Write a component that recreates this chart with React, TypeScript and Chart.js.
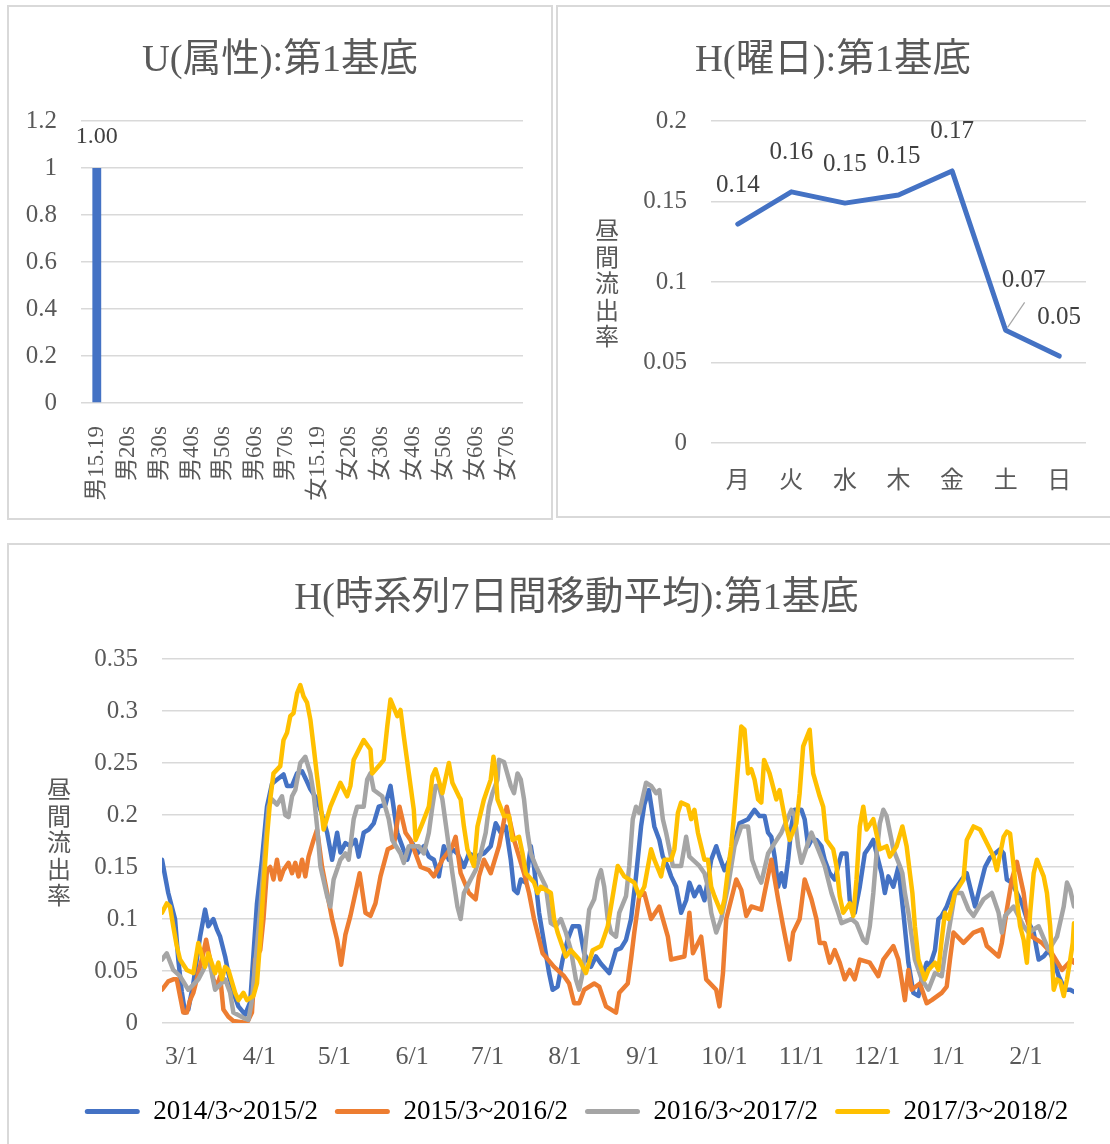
import { useEffect, useRef } from "react";
import { Chart, registerables } from "chart.js";

Chart.register(...registerables);

const FONT = "'Liberation Serif', 'Noto Sans CJK JP', serif";
const TEXT_COLOR = "#595959";
const LABEL_COLOR = "#404040";
const GRID_COLOR = "#d9d9d9";

// ---- Panel 1: U(属性)
const attrLabels = ["男15.19", "男20s", "男30s", "男40s", "男50s", "男60s", "男70s", "女15.19", "女20s", "女30s", "女40s", "女50s", "女60s", "女70s"];
const attrValues = [1.0, 0, 0, 0, 0, 0, 0, 0, 0, 0, 0, 0, 0, 0];

// ---- Panel 2: H(曜日)
const weekdayLabels = ["月", "火", "水", "木", "金", "土", "日"];
const weekdayValues = [0.136, 0.156, 0.149, 0.154, 0.169, 0.070, 0.054];

// ---- Panel 3: H(時系列7日間移動平均)
const monthTickDays = [0, 31, 61, 92, 122, 153, 184, 214, 245, 275, 306, 337];
const monthTickLabels = ["3/1", "4/1", "5/1", "6/1", "7/1", "8/1", "9/1", "10/1", "11/1", "12/1", "1/1", "2/1"];
const seriesLabels = ["2014/3~2015/2", "2015/3~2016/2", "2016/3~2017/2", "2017/3~2018/2"];
const seriesColors = ["#4472C4", "#ED7D31", "#A5A5A5", "#FFC000"];

// [day since 3/1, value]
const series2014: [number, number][] = [[0,0.157],[2.5,0.125],[5.2,0.100],[6.5,0.061],[7.9,0.030],[9.2,0.010],[10.5,0.013],[12.5,0.038],[15.2,0.083],[17.2,0.109],[18.5,0.093],[20.5,0.100],[21.9,0.090],[23.2,0.083],[25.2,0.064],[26.5,0.048],[28.5,0.029],[30.5,0.016],[33.2,0.008],[35.2,0.020],[37.9,0.115],[39.9,0.157],[41.9,0.208],[43.9,0.230],[45.9,0.234],[48.5,0.239],[49.9,0.228],[51.9,0.228],[53.9,0.240],[55.9,0.242],[57.9,0.232],[59.2,0.225],[61.9,0.215],[63.9,0.200],[65.9,0.183],[67.9,0.157],[69.9,0.183],[71.2,0.164],[73.2,0.173],[75.2,0.170],[77.2,0.176],[78.5,0.160],[80.5,0.183],[82.5,0.186],[84.5,0.192],[86.5,0.208],[89.2,0.210],[91.2,0.228],[93.9,0.183],[95.9,0.170],[97.9,0.157],[99.9,0.173],[101.9,0.163],[104.5,0.170],[106.5,0.160],[108.5,0.157],[110.5,0.141],[112.5,0.170],[114.5,0.157],[115.5,0.168],[117.9,0.163],[120.5,0.150],[122.5,0.163],[125.2,0.160],[128.5,0.163],[131.2,0.170],[133.2,0.192],[135.2,0.183],[137.2,0.189],[139.2,0.157],[140.5,0.128],[141.9,0.125],[143.2,0.138],[145.2,0.135],[147.2,0.170],[148.5,0.150],[150.5,0.106],[152.5,0.077],[154.5,0.048],[155.9,0.032],[157.9,0.035],[159.9,0.061],[161.9,0.080],[163.9,0.093],[166.5,0.093],[168.5,0.067],[171.2,0.054],[173.2,0.064],[175.2,0.057],[178.5,0.048],[181.2,0.070],[183.2,0.072],[185.2,0.080],[187.2,0.100],[189.2,0.141],[191.2,0.189],[192.5,0.210],[194.3,0.224],[195.2,0.210],[196.5,0.189],[198.5,0.176],[199.9,0.160],[201.9,0.150],[203.2,0.141],[205.2,0.131],[207.2,0.106],[209.2,0.118],[210.5,0.135],[212.5,0.122],[214.5,0.131],[216.5,0.118],[219.2,0.157],[221.2,0.170],[222.5,0.160],[224.5,0.147],[226.5,0.157],[228.5,0.173],[230.5,0.192],[233.9,0.196],[236.5,0.205],[238.5,0.199],[240.5,0.199],[241.9,0.183],[243.2,0.179],[244.5,0.160],[245.9,0.131],[247.2,0.144],[248.5,0.131],[249.9,0.157],[251.2,0.189],[252.5,0.205],[255.2,0.205],[256.5,0.196],[257.9,0.170],[259.2,0.176],[261.2,0.176],[263.2,0.170],[264.5,0.157],[266.5,0.144],[268.5,0.138],[271.2,0.163],[273.2,0.163],[274.5,0.118],[276.5,0.106],[278.5,0.131],[280.5,0.163],[282.5,0.170],[283.9,0.176],[285.2,0.163],[287.2,0.144],[288.5,0.125],[289.9,0.141],[291.9,0.131],[293.9,0.150],[295.9,0.106],[297.9,0.058],[299.9,0.029],[301.9,0.026],[303.2,0.042],[305.2,0.058],[306.5,0.055],[308.5,0.070],[309.9,0.100],[311.2,0.103],[313.2,0.112],[315.2,0.125],[317.2,0.131],[319.2,0.138],[321.2,0.144],[322.5,0.131],[324.5,0.112],[326.5,0.131],[328.5,0.150],[330.5,0.159],[332.5,0.163],[334.5,0.167],[335.9,0.163],[337.2,0.138],[339.2,0.135],[341.2,0.125],[343.2,0.115],[345.2,0.100],[347.9,0.087],[349.9,0.061],[351.9,0.064],[353.9,0.070],[355.9,0.060],[357.9,0.045],[360.5,0.032],[362.5,0.032],[364,0.030]];

const series2015: [number, number][] = [[0,0.032],[2.5,0.040],[4.5,0.042],[5.9,0.042],[7.2,0.026],[8.5,0.010],[9.9,0.010],[11.2,0.022],[12.5,0.029],[14.5,0.048],[16.5,0.067],[17.6,0.080],[19.2,0.061],[20.5,0.042],[21.9,0.035],[23.2,0.045],[24.5,0.013],[26.5,0.006],[28.5,0.002],[33.9,0.000],[35.9,0.010],[37.2,0.061],[39.2,0.070],[40.5,0.100],[41.9,0.147],[43.2,0.150],[44.5,0.138],[45.9,0.157],[47.2,0.138],[48.5,0.147],[50.5,0.154],[51.9,0.144],[53.2,0.154],[54.5,0.141],[55.9,0.157],[57.2,0.141],[58.5,0.160],[60.5,0.176],[61.9,0.186],[63.9,0.150],[65.9,0.125],[67.9,0.100],[69.9,0.080],[71.5,0.056],[73.2,0.085],[75.2,0.103],[77.2,0.125],[78.9,0.144],[81.2,0.106],[83.2,0.103],[85.2,0.115],[87.2,0.141],[90.1,0.167],[92.5,0.170],[94.8,0.208],[97.2,0.183],[99.2,0.176],[101.2,0.163],[103.2,0.150],[106.5,0.147],[108.5,0.141],[111.9,0.157],[115.9,0.170],[117.2,0.179],[119.2,0.144],[122.5,0.125],[125.2,0.119],[126.5,0.141],[128.5,0.157],[131.2,0.144],[134.5,0.170],[137.6,0.208],[140.5,0.176],[144.5,0.144],[146.5,0.125],[148.5,0.100],[151.9,0.067],[156.5,0.054],[160.5,0.045],[162.5,0.038],[164.5,0.019],[166.5,0.019],[168.5,0.032],[172.5,0.038],[174.5,0.035],[177.2,0.016],[181.2,0.010],[182.5,0.029],[185.9,0.038],[187.2,0.061],[188.5,0.087],[190.5,0.122],[192.5,0.125],[195.2,0.100],[198.5,0.112],[201.9,0.083],[203.2,0.061],[208.5,0.064],[210.5,0.106],[211.9,0.067],[215.2,0.083],[217.2,0.042],[221.2,0.032],[222.5,0.016],[223.9,0.048],[225.2,0.100],[227.2,0.119],[229.2,0.138],[231.2,0.128],[233.2,0.103],[235.2,0.112],[239.2,0.109],[240.5,0.125],[243.2,0.157],[245.9,0.119],[247.9,0.093],[250.5,0.061],[251.9,0.087],[254.5,0.100],[256.5,0.138],[259.2,0.119],[261.2,0.100],[262.5,0.077],[264.5,0.077],[266.5,0.058],[268.5,0.070],[270.5,0.058],[272.5,0.042],[274.5,0.051],[276.5,0.042],[278.5,0.061],[282.5,0.058],[285.9,0.045],[287.9,0.061],[291.9,0.074],[293.9,0.061],[295.2,0.042],[296.5,0.022],[297.9,0.051],[299.2,0.032],[302.5,0.038],[305.2,0.019],[307.2,0.022],[311.2,0.029],[313.2,0.035],[314.5,0.061],[315.9,0.087],[319.9,0.077],[323.9,0.087],[327.2,0.090],[329.2,0.074],[333.9,0.064],[335.2,0.077],[337.2,0.109],[339.2,0.138],[341.2,0.155],[343.9,0.125],[345.2,0.100],[347.2,0.083],[351.2,0.077],[355.2,0.067],[359.2,0.051],[363.2,0.061],[364,0.058]];

const series2016: [number, number][] = [[0,0.061],[1.9,0.067],[4.5,0.051],[7.2,0.045],[10.5,0.032],[14.5,0.042],[16.5,0.051],[18.5,0.064],[21.2,0.032],[25.2,0.042],[27.2,0.029],[28.5,0.010],[32.5,0.005],[34.5,0.003],[35.9,0.022],[39.2,0.109],[41.2,0.170],[42.5,0.208],[43.9,0.215],[45.9,0.210],[47.9,0.218],[49.2,0.200],[50.5,0.198],[51.9,0.218],[53.2,0.224],[55.2,0.250],[57.2,0.256],[59.2,0.240],[60.5,0.221],[61.9,0.189],[63.2,0.151],[65.9,0.122],[67.2,0.112],[68.5,0.138],[71.2,0.157],[73.2,0.163],[74.5,0.157],[75.2,0.170],[76.5,0.196],[77.9,0.208],[80.5,0.208],[81.9,0.234],[83.2,0.240],[84.5,0.224],[87.9,0.218],[90.5,0.196],[91.9,0.176],[95.2,0.163],[96.5,0.154],[98.5,0.170],[102.5,0.170],[104.5,0.163],[106.5,0.183],[107.9,0.208],[109.2,0.228],[110.5,0.228],[111.9,0.215],[113.9,0.180],[115.9,0.144],[117.9,0.112],[119.2,0.100],[120.5,0.125],[123.2,0.138],[125.2,0.147],[127.2,0.163],[129.2,0.183],[130.5,0.208],[131.9,0.221],[133.9,0.234],[134.5,0.253],[136.5,0.251],[139.2,0.228],[140.5,0.221],[141.9,0.240],[143.2,0.234],[144.5,0.215],[145.9,0.183],[147.2,0.163],[149.2,0.151],[151.2,0.141],[153.2,0.131],[155.2,0.096],[157.2,0.093],[159.2,0.100],[161.2,0.087],[163.2,0.070],[165.2,0.042],[166.5,0.032],[167.9,0.048],[169.2,0.080],[170.5,0.109],[172.5,0.119],[173.9,0.138],[175.2,0.147],[176.5,0.131],[177.9,0.100],[179.2,0.087],[181.2,0.083],[182.5,0.106],[185.2,0.122],[186.5,0.151],[187.9,0.196],[189.2,0.208],[190.5,0.202],[193.2,0.231],[195.2,0.228],[197.2,0.221],[198.5,0.224],[199.9,0.196],[201.2,0.183],[203.9,0.151],[207.2,0.151],[209.2,0.179],[210.5,0.160],[214.5,0.151],[216.5,0.144],[217.9,0.131],[219.2,0.106],[221.2,0.087],[223.2,0.100],[225.9,0.131],[228.5,0.170],[231.2,0.189],[233.9,0.189],[235.5,0.157],[237.9,0.141],[239.2,0.135],[241.9,0.163],[244.5,0.173],[247.2,0.183],[251.2,0.205],[252.5,0.199],[253.9,0.170],[255.2,0.154],[259.2,0.183],[261.9,0.167],[264.5,0.151],[267.2,0.125],[269.9,0.106],[271.2,0.096],[275.2,0.100],[277.2,0.096],[279.9,0.080],[281.2,0.077],[282.5,0.093],[283.9,0.125],[285.2,0.163],[286.5,0.192],[287.9,0.205],[289.2,0.199],[291.9,0.167],[294.5,0.151],[295.5,0.144],[296.5,0.125],[297.9,0.106],[300.5,0.061],[303.2,0.042],[305.9,0.032],[308.5,0.048],[311.2,0.045],[312.5,0.067],[315.2,0.106],[316.5,0.125],[319.2,0.125],[321.9,0.109],[323.9,0.103],[327.9,0.119],[331.2,0.125],[333.9,0.106],[335.2,0.087],[336.5,0.103],[339.9,0.112],[343.9,0.093],[345.9,0.087],[349.9,0.093],[353.9,0.070],[357.2,0.083],[359.9,0.112],[361.2,0.135],[362.5,0.128],[364,0.112]];

const series2017: [number, number][] = [[0,0.106],[1.9,0.115],[3.2,0.112],[4.5,0.093],[5.9,0.074],[7.2,0.061],[9.9,0.051],[12.5,0.048],[14.5,0.077],[17.2,0.054],[18.5,0.067],[21.2,0.048],[22.5,0.058],[23.9,0.042],[25.2,0.054],[26.5,0.051],[29.2,0.029],[30.5,0.022],[32.5,0.029],[33.9,0.022],[36.5,0.026],[37.9,0.038],[39.2,0.080],[40.5,0.131],[41.9,0.179],[43.2,0.215],[44.5,0.240],[47.2,0.247],[48.5,0.272],[49.9,0.279],[51.2,0.295],[52.5,0.298],[53.9,0.317],[55.2,0.325],[56.5,0.314],[57.9,0.308],[59.2,0.292],[60.5,0.266],[61.9,0.237],[63.2,0.212],[64.5,0.186],[67.2,0.208],[71.2,0.231],[73.9,0.218],[75.2,0.228],[76.5,0.253],[80.5,0.272],[83.2,0.263],[83.9,0.240],[86.5,0.247],[88.5,0.253],[89.9,0.285],[91.2,0.311],[93.9,0.295],[95.2,0.301],[96.5,0.276],[99.2,0.228],[100.5,0.205],[101.2,0.176],[103.9,0.192],[106.5,0.208],[107.9,0.237],[109.2,0.244],[111.9,0.221],[114.5,0.250],[115.9,0.231],[118.5,0.218],[119.2,0.215],[120.5,0.189],[121.9,0.167],[124.5,0.151],[125.9,0.189],[128.5,0.215],[131.2,0.234],[132.3,0.256],[133.2,0.240],[133.9,0.215],[136.5,0.199],[138.5,0.199],[139.9,0.176],[142.5,0.179],[143.9,0.163],[145.2,0.144],[148.5,0.135],[149.9,0.125],[151.2,0.131],[155.2,0.125],[156.5,0.100],[157.9,0.087],[161.2,0.064],[163.2,0.070],[166.5,0.061],[169.2,0.048],[171.9,0.070],[175.2,0.074],[176.5,0.083],[177.9,0.093],[179.2,0.112],[180.5,0.131],[181.9,0.151],[184.5,0.141],[188.5,0.135],[190.5,0.122],[192.5,0.131],[195.2,0.167],[196.5,0.157],[199.2,0.141],[200.5,0.157],[203.2,0.157],[204.5,0.167],[205.9,0.202],[207.2,0.212],[209.9,0.209],[211.2,0.196],[212.5,0.205],[213.9,0.183],[216.5,0.157],[217.9,0.157],[219.2,0.131],[220.5,0.122],[223.2,0.106],[224.5,0.119],[225.9,0.147],[227.2,0.170],[228.5,0.205],[229.9,0.247],[231.2,0.285],[232.5,0.282],[233.9,0.240],[235.2,0.244],[236.5,0.234],[237.9,0.215],[239.2,0.212],[240.3,0.253],[242.5,0.240],[245.2,0.215],[246.5,0.224],[249.2,0.189],[250.5,0.176],[253.2,0.192],[254.5,0.221],[255.9,0.266],[258.5,0.282],[259.9,0.240],[262.5,0.218],[263.9,0.208],[265.2,0.176],[267.9,0.167],[269.2,0.151],[270.5,0.122],[271.9,0.106],[274.5,0.115],[275.9,0.103],[277.2,0.138],[278.5,0.189],[279.9,0.208],[281.2,0.186],[283.9,0.196],[286.5,0.167],[289.2,0.170],[290.5,0.160],[293.2,0.170],[295.5,0.189],[297.2,0.170],[298.5,0.144],[299.5,0.125],[300.5,0.093],[301.9,0.061],[304.5,0.042],[305.9,0.051],[308.5,0.058],[309.9,0.051],[311.2,0.080],[312.5,0.106],[313.9,0.100],[316.5,0.125],[319.9,0.138],[321.2,0.176],[323.9,0.189],[326.5,0.186],[329.2,0.173],[331.9,0.160],[333.2,0.147],[335.9,0.179],[337.2,0.184],[338.5,0.182],[339.9,0.151],[341.2,0.119],[342.5,0.093],[343.9,0.080],[345.2,0.058],[346.5,0.106],[347.9,0.144],[349.2,0.157],[351.9,0.141],[353.2,0.125],[354.5,0.093],[355.9,0.032],[357.2,0.042],[358.5,0.040],[359.9,0.026],[361.2,0.042],[362.5,0.061],[363.5,0.077],[364,0.096]];

const allSeries = [series2014, series2015, series2016, series2017];

const f = (size: number) => ({ family: FONT, size, weight: "normal" as any, lineHeight: 1.2 });

const titleOpts = (text: string) => ({
  display: true,
  text,
  color: TEXT_COLOR,
  font: { family: FONT, size: 38.5, weight: "normal" as any, lineHeight: 1.2 },
  padding: { top: 32.5, bottom: 37.3 },
});

// Invisible right-hand axis that only reserves horizontal space,
// so titles/legends stay centred over the whole panel.
const spacerAxis = (width: number) => ({
  position: "right",
  min: 0,
  max: 1,
  grid: { display: false },
  border: { display: false },
  ticks: { display: false },
  afterFit: (s: any) => { s.width = width; },
});

const stackedTitle = (text: string, dx: number) => ({
  id: "stackedTitle",
  afterDraw(chart: any) {
    const { ctx, chartArea } = chart;
    const chars = Array.from(text);
    const step = 26.5;
    const x = chartArea.left - dx;
    const cy = (chartArea.top + chartArea.bottom) / 2 + 4;
    ctx.save();
    ctx.font = `24px ${FONT}`;
    ctx.fillStyle = TEXT_COLOR;
    ctx.textAlign = "center";
    ctx.textBaseline = "middle";
    chars.forEach((c, i) => ctx.fillText(c, x, cy + (i - (chars.length - 1) / 2) * step));
    ctx.restore();
  },
});

const barLabelPlugin = {
  id: "barLabels",
  afterDatasetsDraw(chart: any) {
    const { ctx } = chart;
    const meta = chart.getDatasetMeta(0);
    ctx.save();
    ctx.font = `24px ${FONT}`;
    ctx.fillStyle = LABEL_COLOR;
    ctx.textAlign = "center";
    ctx.textBaseline = "middle";
    meta.data.forEach((bar: any, i: number) => {
      if (attrValues[i] > 0) ctx.fillText(attrValues[i].toFixed(2), bar.x, bar.y - 31);
    });
    ctx.restore();
  },
};

const weekdayLabelPlugin = {
  id: "weekdayLabels",
  afterDatasetsDraw(chart: any) {
    const { ctx } = chart;
    const meta = chart.getDatasetMeta(0);
    ctx.save();
    ctx.font = `25px ${FONT}`;
    ctx.fillStyle = LABEL_COLOR;
    ctx.textAlign = "center";
    ctx.textBaseline = "middle";
    meta.data.forEach((pt: any, i: number) => {
      const txt = weekdayValues[i].toFixed(2);
      if (i === 5) {
        ctx.strokeStyle = "#a6a6a6";
        ctx.lineWidth = 1.2;
        ctx.beginPath();
        ctx.moveTo(pt.x + 2, pt.y - 3);
        ctx.lineTo(pt.x + 19, pt.y - 28);
        ctx.stroke();
        ctx.fillText(txt, pt.x + 18, pt.y - 50);
      } else {
        ctx.fillText(txt, pt.x, pt.y - 39);
      }
    });
    ctx.restore();
  },
};

function AttrChart() {
  const ref = useRef<HTMLCanvasElement>(null);
  useEffect(() => {
    const chart = new Chart(ref.current!, {
      type: "bar",
      data: {
        labels: attrLabels,
        datasets: [{ data: attrValues, backgroundColor: "#4472C4", barPercentage: 0.28, categoryPercentage: 1 }],
      },
      options: {
        responsive: false,
        animation: false,
        devicePixelRatio: 1,
        layout: { padding: { left: 0, right: 0, top: 0, bottom: 0 } },
        plugins: { legend: { display: false }, tooltip: { enabled: false }, title: titleOpts("U(属性):第1基底") as any },
        scales: {
          x: {
            grid: { display: false },
            border: { display: false },
            ticks: { color: TEXT_COLOR, font: f(23), minRotation: 90, maxRotation: 90, autoSkip: false, padding: 15 },
            afterFit: (s: any) => { s.height = 117; },
          },
          y: {
            min: 0,
            max: 1.2,
            grid: { color: GRID_COLOR, lineWidth: 1.5, drawTicks: false },
            border: { display: false },
            ticks: { stepSize: 0.2, color: TEXT_COLOR, font: f(25), padding: 24, callback: (v: any) => String(Math.round(v * 10) / 10) },
            afterFit: (s: any) => { s.width = 74; },
          },
          ySpace: spacerAxis(30),
        },
      } as any,
      plugins: [barLabelPlugin],
    });
    return () => chart.destroy();
  }, []);
  return <canvas ref={ref} width={546} height={515} style={{ position: "absolute", left: 7, top: 5 }} />;
}

function WeekdayChart() {
  const ref = useRef<HTMLCanvasElement>(null);
  useEffect(() => {
    const chart = new Chart(ref.current!, {
      type: "line",
      data: {
        labels: weekdayLabels,
        datasets: [{
          data: weekdayValues,
          borderColor: "#4472C4",
          backgroundColor: "#4472C4",
          borderWidth: 5,
          pointRadius: 0,
          tension: 0,
          borderJoinStyle: "round",
          borderCapStyle: "round",
        }],
      },
      options: {
        responsive: false,
        animation: false,
        devicePixelRatio: 1,
        layout: { padding: { left: 0, right: 0, top: 0, bottom: 0 } },
        plugins: { legend: { display: false }, tooltip: { enabled: false }, title: titleOpts("H(曜日):第1基底") as any },
        scales: {
          x: {
            offset: true,
            grid: { display: false },
            border: { display: false },
            ticks: { color: TEXT_COLOR, font: f(24), padding: 16, maxRotation: 0 },
            afterFit: (s: any) => { s.height = 75; },
          },
          y: {
            min: 0,
            max: 0.2,
            grid: { color: GRID_COLOR, lineWidth: 1.5, drawTicks: false },
            border: { display: false },
            ticks: { stepSize: 0.05, color: TEXT_COLOR, font: f(25), padding: 24, callback: (v: any) => String(Math.round(v * 100) / 100) },
            afterFit: (s: any) => { s.width = 155; },
          },
          ySpace: spacerAxis(24),
        },
      } as any,
      plugins: [weekdayLabelPlugin, stackedTitle("昼間流出率", 104)],
    });
    return () => chart.destroy();
  }, []);
  return <canvas ref={ref} width={554} height={513} style={{ position: "absolute", left: 556, top: 5 }} />;
}

function TimeSeriesChart() {
  const ref = useRef<HTMLCanvasElement>(null);
  useEffect(() => {
    const chart = new Chart(ref.current!, {
      type: "line",
      data: {
        datasets: allSeries.map((s, i) => ({
          label: seriesLabels[i],
          data: s.map(([x, y]) => ({ x, y })),
          borderColor: seriesColors[i],
          backgroundColor: seriesColors[i],
          borderWidth: 4.5,
          pointRadius: 0,
          tension: 0,
          borderJoinStyle: "round",
          borderCapStyle: "round",
          order: 3 - i,
        })),
      },
      options: {
        responsive: false,
        animation: false,
        devicePixelRatio: 1,
        layout: { padding: { left: 36, right: 0, top: 0, bottom: 9 } },
        plugins: {
          tooltip: { enabled: false },
          title: titleOpts("H(時系列7日間移動平均):第1基底") as any,
          legend: {
            position: "bottom",
            align: "center",
            labels: {
              boxWidth: 55,
              boxHeight: 5,
              padding: 17,
              color: TEXT_COLOR,
              font: f(27),
              useBorderRadius: true,
              borderRadius: 2.5,
              generateLabels: (c: any) =>
                c.data.datasets.map((ds: any, i: number) => ({
                  text: ds.label,
                  fillStyle: ds.borderColor,
                  strokeStyle: ds.borderColor,
                  lineWidth: 0,
                  hidden: false,
                  datasetIndex: i,
                  borderRadius: 2.5,
                })),
            },
          },
        },
        scales: {
          x: {
            type: "linear",
            min: 0,
            max: 364,
            grid: { display: false },
            border: { display: false },
            afterBuildTicks: (s: any) => { s.ticks = monthTickDays.map((v) => ({ value: v })); },
            ticks: {
              autoSkip: false,
              maxRotation: 0,
              minRotation: 0,
              align: "start",
              labelOffset: 3,
              padding: 11,
              color: TEXT_COLOR,
              font: f(26),
              callback: (v: any) => {
                const idx = monthTickDays.indexOf(Math.round(v));
                return idx >= 0 ? monthTickLabels[idx] : "";
              },
            },
            afterFit: (s: any) => { s.height = 58; },
          },
          y: {
            min: 0,
            max: 0.35,
            grid: { color: GRID_COLOR, lineWidth: 1.5, drawTicks: false },
            border: { display: false },
            ticks: { stepSize: 0.05, color: TEXT_COLOR, font: f(25), padding: 24, callback: (v: any) => String(Math.round(v * 100) / 100) },
            afterFit: (s: any) => { s.width = 119; },
          },
          ySpace: spacerAxis(36),
        },
      } as any,
      plugins: [stackedTitle("昼間流出率", 103)],
    });
    return () => chart.destroy();
  }, []);
  return <canvas ref={ref} width={1103} height={601} style={{ position: "absolute", left: 7, top: 543 }} />;
}

export default function App() {
  useEffect(() => {
    document.documentElement.style.overflow = "hidden";
    document.body.style.overflow = "hidden";
  }, []);
  const border = `2px solid ${GRID_COLOR}`;
  return (
    <>
      <div style={{ position: "absolute", left: 7, top: 5, width: 546, height: 515, boxSizing: "border-box", border, background: "#fff" }} />
      <div style={{ position: "absolute", left: 556, top: 5, width: 554, height: 513, boxSizing: "border-box", borderTop: border, borderLeft: border, borderBottom: border, background: "#fff" }} />
      <div style={{ position: "absolute", left: 7, top: 543, width: 1103, height: 601, boxSizing: "border-box", borderTop: border, borderLeft: border, background: "#fff" }} />
      <AttrChart />
      <WeekdayChart />
      <TimeSeriesChart />
    </>
  );
}
